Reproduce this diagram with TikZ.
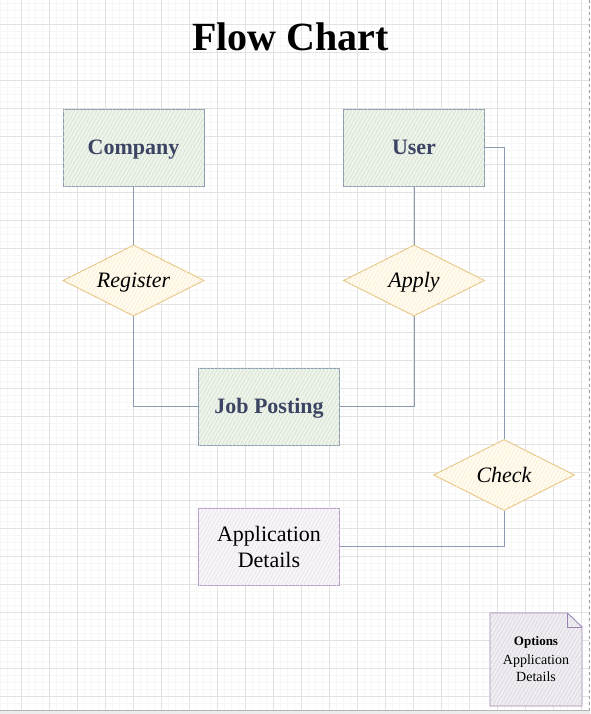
\documentclass[tikz,border=0pt]{standalone}
\usepackage{fontspec}
\setmainfont{Liberation Serif}
\usetikzlibrary{shapes.geometric,patterns.meta}
\definecolor{gridminor}{RGB}{247,247,247}
\definecolor{gridmajor}{RGB}{226,226,226}
\definecolor{slate}{RGB}{140,154,178}
\definecolor{labeltext}{RGB}{59,68,99}
\definecolor{greenfill}{RGB}{238,243,235}
\definecolor{greenhatch}{RGB}{207,223,200}
\definecolor{goldline}{RGB}{230,196,125}
\definecolor{goldfill}{RGB}{255,251,240}
\definecolor{goldhatch}{RGB}{252,234,200}
\definecolor{purpleline}{RGB}{180,156,196}
\definecolor{purplefill}{RGB}{248,245,249}
\definecolor{purplehatch}{RGB}{230,222,236}
\definecolor{noteline}{RGB}{156,130,176}
\definecolor{notefill}{RGB}{240,238,242}
\definecolor{notehatch}{RGB}{214,210,218}
\tikzset{
  minorline/.style={gridminor, line width=0.4pt},
  majorline/.style={gridmajor, line width=0.8pt},
  entitybox/.style={rectangle, draw=slate, line width=0.9pt, fill=greenfill,
    postaction={pattern={Lines[angle=60,distance=3.2pt,line width=0.5pt]}, pattern color=greenhatch},
    minimum width=141pt, minimum height=77pt, inner sep=0pt,
    text height=19.6pt, text depth=4.75pt,
    font=\fontsize{22}{26}\selectfont\bfseries, text=labeltext},
  relbox/.style={diamond, draw=goldline, line width=0.9pt, fill=goldfill,
    postaction={pattern={Lines[angle=60,distance=3.2pt,line width=0.5pt]}, pattern color=goldhatch},
    minimum width=141pt, minimum height=71pt, inner sep=0pt, aspect=2,
    text height=19.6pt, text depth=4.75pt,
    font=\fontsize{22}{26}\selectfont\itshape, text=black},
  detailbox/.style={rectangle, draw=purpleline, line width=0.9pt, fill=purplefill,
    postaction={pattern={Lines[angle=60,distance=3.2pt,line width=0.5pt]}, pattern color=purplehatch},
    minimum width=141pt, minimum height=77pt, inner sep=0pt, align=center,
    font=\fontsize{22}{26}\selectfont, text=black},
  notetext/.style={anchor=base, inner sep=0pt, font=\fontsize{14}{17}\selectfont},
  link/.style={slate, line width=0.9pt},
}
\begin{document}
\begin{tikzpicture}[x=1pt,y=-1pt]
\useasboundingbox (0,0) rectangle (590,714);
% background grid
\fill[white] (0,0) rectangle (590,714);
\foreach \i in {0,...,84} \draw[minorline] ({0.3+7*\i},0) -- ({0.3+7*\i},710);
\foreach \i in {0,...,100} \draw[minorline] (0,{3.3+7*\i}) -- (589,{3.3+7*\i});
\foreach \i in {0,...,20} \draw[majorline] ({21.3+28*\i},0) -- ({21.3+28*\i},710);
\foreach \i in {0,...,24} \draw[majorline] (0,{24.3+28*\i}) -- (589,{24.3+28*\i});
\fill[gridmajor!70] (0,710) rectangle (590,714);
\draw[gridmajor!80!black, line width=0.6pt] (0,710) -- (590,710);
\draw[gridmajor!70!black, dashed, line width=0.6pt] (589.2,0) -- (589.2,710);

% title
\node[anchor=base, font=\fontsize{40}{44}\selectfont\bfseries] (title) at (290.5,51) {Flow Chart};

% nodes
\node[entitybox] (company) at (133.5,147.5) {Company};
\node[entitybox] (user) at (414,147.5) {User};
\node[relbox] (register) at (133.5,280.5) {Register};
\node[relbox] (apply) at (414,280.5) {Apply};
\node[entitybox] (job) at (269,406.5) {Job Posting};
\node[relbox] (check) at (504,475) {Check};
\node[detailbox] (details) at (269,546.5) {Application\\Details};

% connectors
\draw[link] (company.south) -- (register.north);
\draw[link] (register.south) |- (job.west);
\draw[link] (user.south) -- (apply.north);
\draw[link] (apply.south) |- (job.east);
\draw[link] (user.east) -| (check.north);
\draw[link] (check.south) |- (details.east);

% note
\coordinate (ntl) at (490,613);
\coordinate (nfa) at (567.5,613);
\coordinate (nfb) at (582,627);
\coordinate (nbr) at (582,706);
\coordinate (nbl) at (490,706);
\filldraw[draw=noteline, line width=0.9pt, fill=notefill,
  postaction={pattern={Lines[angle=60,distance=3.2pt,line width=0.5pt]}, pattern color=notehatch}]
  (ntl) -- (nfa) -- (nfb) -- (nbr) -- (nbl) -- cycle;
\draw[noteline, line width=0.6pt] (nfa) -- (567.5,627) -- (nfb);
\node[notetext, font=\fontsize{13}{17}\selectfont\bfseries] (noteA) at (536,645) {Options};
\node[notetext] (noteB) at (536,664) {Application};
\node[notetext] (noteC) at (536,681) {Details};
\end{tikzpicture}
\end{document}
